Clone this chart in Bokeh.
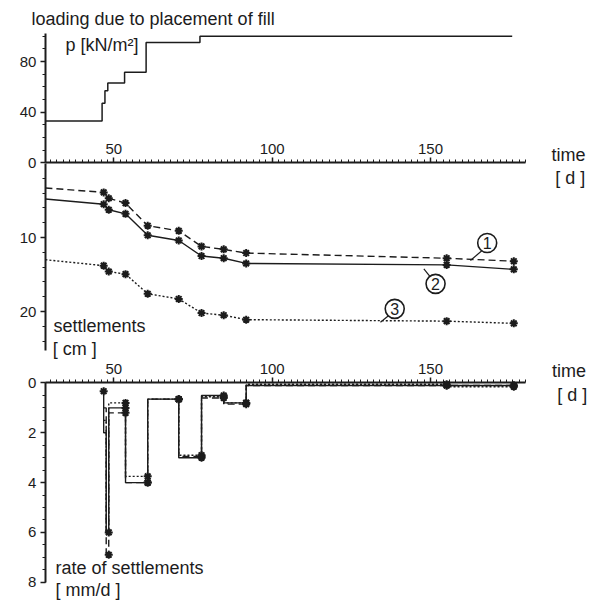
from bokeh.plotting import figure
from bokeh.models import Range1d, LinearAxis, FixedTicker, Label
from bokeh.embed import file_html
from bokeh.resources import INLINE
from bokeh.core.properties import value

# ---------------- data ----------------
# loading due to placement of fill, p [kN/m2] (step curve)
load_day = [28.4, 46.3, 47.2, 48.1, 53.4, 60.2, 77.2, 175.8]
load_p = [33, 47, 57, 63, 71.5, 95, 100, 100]

# settlements [cm]
set_day = [28.4, 46.8, 48.4, 53.7, 60.7, 70.5, 77.7, 84.7, 91.8, 155.1, 176.3]
set_1 = [3.3, 3.9, 4.7, 5.35, 8.4, 9.1, 11.2, 11.6, 12.1, 12.8, 13.2]
set_2 = [4.8, 5.5, 6.25, 6.8, 9.7, 10.4, 12.5, 12.8, 13.5, 13.7, 14.3]
set_3 = [13.0, 13.8, 14.6, 14.95, 17.6, 18.3, 20.2, 20.5, 21.1, 21.3, 21.6]

# rate of settlements [mm/d] (step curves, value holds until next day)
rate1_day = [46.8, 47.6, 48.4, 53.7, 60.7, 70.5, 77.7, 84.7, 91.8, 176.3]
rate1_val = [1.0, 7.0, 1.2, 4.0, 0.65, 2.95, 0.6, 0.85, 0.1, 0.1]
rate2_day = [46.8, 46.8, 47.6, 48.4, 53.7, 60.7, 70.5, 77.7, 84.7, 91.8, 176.3]
rate2_val = [0.33, 2.0, 6.0, 1.0, 4.0, 0.65, 3.0, 0.5, 0.8, 0.1, 0.1]
rate3_day = [46.8, 47.6, 48.4, 53.7, 60.7, 70.5, 77.7, 84.7, 91.8, 155.1, 176.3]
rate3_val = [1.5, 6.0, 0.8, 3.75, 0.65, 2.9, 0.55, 0.8, 0.05, 0.15, 0.15]

# star markers on the rate curves
mark1_day = [48.4, 53.7, 60.7, 70.5, 77.7, 84.7, 91.8, 155.1, 176.3]
mark1_val = [6.9, 1.2, 4.0, 0.65, 2.95, 0.6, 0.85, 0.1, 0.1]
mark2_day = [46.8, 48.4, 53.7, 60.7, 70.5, 77.7, 84.7, 91.8, 155.1, 176.3]
mark2_val = [0.33, 6.0, 1.0, 4.0, 0.65, 3.0, 0.5, 0.8, 0.1, 0.1]
mark3_day = [53.7, 60.7, 70.5, 77.7, 84.7, 91.8, 155.1, 176.3]
mark3_val = [0.8, 3.75, 0.65, 2.9, 0.55, 0.8, 0.05, 0.15]

time_ticks = [50, 100, 150]
time_minor = list(range(30, 181, 2))
p_ticks = [0, 40, 80]
p_minor = list(range(0, 101, 10))
s_ticks = [10, 20]
s_minor = list(range(2, 25, 2))
r_ticks = [0, 2, 4, 6, 8]
r_minor = [x * 0.5 for x in range(0, 17)]

# ---------------- figure ----------------
INK = "#1c1c1c"
FONT = "Liberation Sans"
X0, X1 = 28.4, 180.0

p = figure(width=595, height=600, output_backend="svg", toolbar_location=None,
           x_range=Range1d(14.22, 202.1), y_range=Range1d(-345.7, 128.2),
           x_axis_location=None, y_axis_location=None,
           min_border=0, min_border_left=0, min_border_right=0,
           min_border_top=0, min_border_bottom=0)
p.outline_line_color = None
p.grid.visible = False
p.background_fill_color = "white"
p.extra_y_ranges = {"s": Range1d(59.05, -22.03), "r": Range1d(8.735, -15.36)}


def style_axis(ax, major, minor):
    ax.ticker = FixedTicker(ticks=major, minor_ticks=minor)
    ax.axis_line_color = INK
    ax.axis_line_width = 2
    ax.major_tick_line_color = INK
    ax.minor_tick_line_color = INK
    ax.major_tick_line_width = 1.5
    ax.minor_tick_line_width = 1
    ax.major_tick_in = 0
    ax.minor_tick_in = 0
    ax.major_tick_out = 5
    ax.minor_tick_out = 3
    ax.major_label_text_font = FONT
    ax.major_label_text_font_size = "15px"
    ax.major_label_text_color = INK
    ax.major_label_standoff = 4


# vertical axes
ax_p = LinearAxis(fixed_location=X0, bounds=(0, 101.8))
style_axis(ax_p, p_ticks, p_minor)
p.add_layout(ax_p, "left")

ax_s = LinearAxis(fixed_location=X0, bounds=(0, 25.2), y_range_name="s")
style_axis(ax_s, s_ticks, s_minor)
p.add_layout(ax_s, "left")

ax_r = LinearAxis(fixed_location=X0, bounds=(0, 8), y_range_name="r")
style_axis(ax_r, r_ticks, r_minor)
p.add_layout(ax_r, "left")

# horizontal time axes
ax_t1 = LinearAxis(fixed_location=0, bounds=(X0, X1))
style_axis(ax_t1, time_ticks, time_minor)
p.add_layout(ax_t1, "above")

ax_t2 = LinearAxis(fixed_location=0, bounds=(X0, X1), y_range_name="r")
style_axis(ax_t2, time_ticks, time_minor)
p.add_layout(ax_t2, "above")

# ---- loading ----
p.step(load_day, load_p, mode="after", line_color=INK, line_width=1.5)

# ---- settlements ----
styles = [("dashed", "7 4"), ("solid", "solid"), ("dotted", "2 2")]
for vals, (_, dash) in zip([set_1, set_2, set_3], styles):
    p.line(set_day, vals, y_range_name="s", line_color=INK, line_width=1.4,
           line_dash=dash)
    p.scatter(set_day[1:], vals[1:], y_range_name="s", marker="asterisk",
              size=8, line_color=INK, line_width=2)

# ---- rates ----
for d, v, md, mv, (_, dash) in zip([rate1_day, rate2_day, rate3_day],
                                   [rate1_val, rate2_val, rate3_val],
                                   [mark1_day, mark2_day, mark3_day],
                                   [mark1_val, mark2_val, mark3_val], styles):
    p.step(d, v, mode="after", y_range_name="r", line_color=INK,
           line_width=1.4, line_dash=dash)
    p.scatter(md, mv, y_range_name="r", marker="asterisk", size=8,
              line_color=INK, line_width=2)

# ---- curve numbers ----
num_txt = ["1", "2", "3"]
num_x = [167.9, 151.6, 138.7]
num_y = [10.74, 16.26, 19.64]
lead_x0 = [162.6, 147.9, 134.2]
lead_y0 = [13.1, 14.23, 21.45]
lead_x1 = [166.3, 150.0, 136.8]
lead_y1 = [11.76, 15.36, 20.54]
p.segment(lead_x0, lead_y0, lead_x1, lead_y1, y_range_name="s",
          line_color=INK, line_width=1.2)
p.scatter(num_x, num_y, y_range_name="s", marker="circle", size=19,
          fill_color="white", line_color=INK, line_width=1.6)
p.text(num_x, num_y, text=num_txt, y_range_name="s", text_font=value(FONT),
       text_font_size="16px", text_align="center", text_baseline="middle",
       text_color=INK)

# ---- texts ----
def lab(x, y, t, rng="default", size="18px"):
    p.add_layout(Label(x=x, y=y, text=t, y_range_name=rng, text_font=FONT,
                       text_font_size=size, text_color=INK,
                       text_baseline="middle", text_align="left"))

lab(24.0, 113.2, "loading due to placement of fill")
lab(34.75, 93.4, "p [kN/m²]")
lab(188.2, 6.2, "time")
lab(189.4, -12.0, "[ d ]")
lab(30.95, 22.0, "settlements", "s")
lab(30.7, 25.0, "[ cm ]", "s")
lab(188.4, -0.47, "time", "r")
lab(190.0, 0.5, "[ d ]", "r")
lab(31.6, 7.41, "rate of settlements", "r")
lab(31.6, 8.33, "[ mm/d ]", "r")

open("out.html", "w").write(file_html(p, INLINE))
